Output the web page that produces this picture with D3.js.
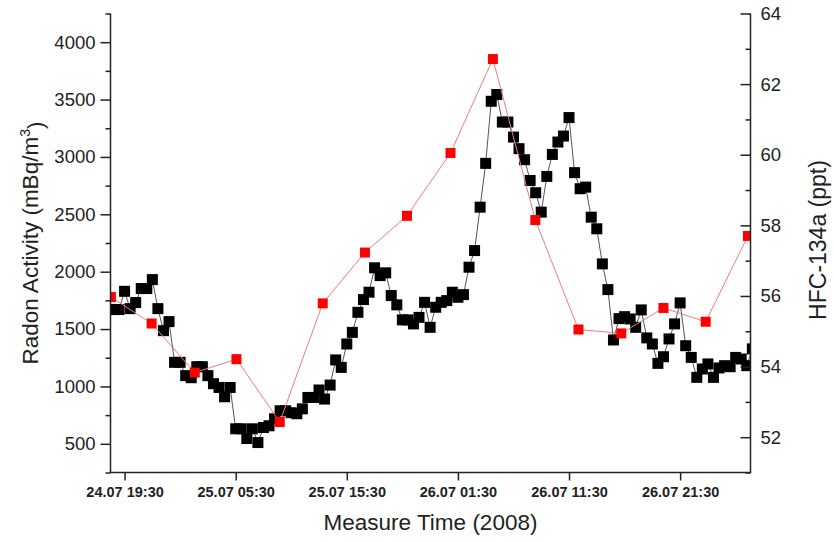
<!DOCTYPE html>
<html>
<head>
<meta charset="utf-8">
<script src="https://cdn.jsdelivr.net/npm/d3@7"></script>
<style>
  body { margin: 0; background: #fff; }
  svg text { font-family: Arial, "Liberation Sans", sans-serif; fill: #222; }
</style>
</head>
<body>
<div id="chart"></div>
<script>
// radon: one reading every 30 minutes from the start time
var radonStart = '2008-07-24 18:30'
var radonStepMinutes = 30
var radonValues = [
  1670, 1670, 1829, 1678, 1731, 1853, 1853, 1931, 1678, 1486,
  1565, 1210, 1210, 1094, 1076, 1172, 1172, 1094, 1024, 991,
  910, 991, 631, 631, 546, 631, 511, 642, 657, 718,
  788, 788, 771, 762, 805, 904, 904, 969, 890, 1012,
  1231, 1166, 1370, 1471, 1646, 1757, 1821, 2034, 1966, 1990,
  1792, 1711, 1580, 1580, 1545, 1602, 1733, 1515, 1690, 1733,
  1748, 1821, 1777, 1800, 2039, 2184, 2562, 2944, 3485, 3544,
  3304, 3304, 3173, 3072, 2976, 2795, 2688, 2519, 2830, 3022,
  3130, 3182, 3343, 2863, 2723, 2737, 2475, 2374, 2068, 1844,
  1405, 1591, 1608, 1588, 1515, 1667, 1423, 1370, 1201, 1259,
  1414, 1545, 1728, 1355, 1253, 1079, 1152, 1196, 1079, 1161,
  1181, 1172, 1253, 1239, 1181, 1327
]

// HFC-134a samples
var hfcTimes = [
  '2008-07-24 18:16', '2008-07-24 21:56', '2008-07-25 01:49', '2008-07-25 05:34',
  '2008-07-25 09:28', '2008-07-25 13:20', '2008-07-25 17:08', '2008-07-25 20:55',
  '2008-07-26 00:50', '2008-07-26 04:39', '2008-07-26 08:28', '2008-07-26 12:21',
  '2008-07-26 16:12', '2008-07-26 20:00', '2008-07-26 23:48', '2008-07-27 03:36'
]
var hfcValues = [
  55.97, 55.22, 53.83, 54.21, 52.43, 55.79, 57.23, 58.27,
  60.05, 62.71, 58.15, 55.05, 54.94, 55.66, 55.27, 57.70
]

var timeDomain = ['2008-07-24 18:14', '2008-07-27 03:50']
var timeTicks = [
  '2008-07-24 19:30', '2008-07-25 05:30', '2008-07-25 15:30',
  '2008-07-26 01:30', '2008-07-26 11:30', '2008-07-26 21:30'
]
var radonDomain = [250, 4250]
var radonTicks = [500, 1000, 1500, 2000, 2500, 3000, 3500, 4000]
var radonMinor = [250, 750, 1250, 1750, 2250, 2750, 3250, 3750, 4250]
var hfcDomain = [51, 64]
var hfcTicks = [52, 54, 56, 58, 60, 62, 64]
var hfcMinor = [51, 53, 55, 57, 59, 61, 63]

var parse = d3.timeParse('%Y-%m-%d %H:%M')
var fmt = d3.timeFormat('%d.%m %H:%M')

var width = 834, height = 542
var pL = 110.5, pR = 750.5, pT = 13.5, pB = 472.5

var svg = d3.select('#chart')
  .append('svg')
  .attr('width', width)
  .attr('height', height)

var x = d3.scaleTime()
  .domain(timeDomain.map(parse))
  .range([pL, pR])
var yL = d3.scaleLinear().domain(radonDomain).range([pB, pT])
var yR = d3.scaleLinear().domain(hfcDomain).range([pB, pT])

var t0 = parse(radonStart)
var radon = radonValues.map((v, i) => ({ t: d3.timeMinute.offset(t0, i * radonStepMinutes), v: v }))
var hfc = hfcValues.map((v, i) => ({ t: parse(hfcTimes[i]), v: v }))

svg.append('clipPath').attr('id', 'plot')
  .append('rect')
  .attr('x', pL).attr('y', 0)
  .attr('width', pR - pL).attr('height', pB)

var plot = svg.append('g').attr('clip-path', 'url(#plot)')

// radon series
plot.append('path')
  .datum(radon)
  .attr('fill', 'none')
  .attr('stroke', '#555')
  .attr('stroke-width', 1)
  .attr('d', d3.line().x(d => x(d.t)).y(d => yL(d.v)))

plot.selectAll('.rn')
  .data(radon)
  .enter()
  .append('rect')
  .attr('class', 'rn')
  .attr('x', d => x(d.t) - 5.5)
  .attr('y', d => yL(d.v) - 5.5)
  .attr('width', 11)
  .attr('height', 11)
  .attr('fill', '#000')

// hfc series
plot.append('path')
  .datum(hfc)
  .attr('fill', 'none')
  .attr('stroke', '#f07a7a')
  .attr('stroke-width', 1)
  .attr('d', d3.line().x(d => x(d.t)).y(d => yR(d.v)))

plot.selectAll('.hf')
  .data(hfc)
  .enter()
  .append('rect')
  .attr('class', 'hf')
  .attr('x', d => x(d.t) - 5)
  .attr('y', d => yR(d.v) - 5)
  .attr('width', 10)
  .attr('height', 10)
  .attr('fill', '#f00')

// axes
function style(g) {
  g.select('.domain').remove()
  g.selectAll('line').attr('stroke', '#222').attr('stroke-width', 1.5)
}

svg.append('g')
  .attr('transform', `translate(${pL},0)`)
  .call(d3.axisLeft(yL).tickValues(radonTicks).tickFormat(d3.format('d')).tickSize(10).tickPadding(5))
  .call(style)
  .selectAll('text').style('font-size', '18.5px')
svg.append('g')
  .attr('transform', `translate(${pL},0)`)
  .call(d3.axisLeft(yL).tickValues(radonMinor).tickSize(5).tickFormat(''))
  .call(style)

svg.append('g')
  .attr('transform', `translate(${pR},0)`)
  .call(d3.axisRight(yR).tickValues(hfcTicks).tickSizeInner(-10).tickSizeOuter(0).tickPadding(10))
  .call(style)
  .selectAll('text').style('font-size', '18.5px')
svg.append('g')
  .attr('transform', `translate(${pR},0)`)
  .call(d3.axisRight(yR).tickValues(hfcMinor).tickSizeInner(-5).tickSizeOuter(0).tickFormat(''))
  .call(style)

svg.append('g')
  .attr('transform', `translate(0,${pB})`)
  .call(d3.axisBottom(x).tickValues(timeTicks.map(parse)).tickFormat(fmt).tickSize(8).tickPadding(6))
  .call(style)
  .selectAll('text')
  .style('font-size', '14.5px')
  .style('font-weight', 'bold')

// axis lines (no top border)
svg.append('path')
  .attr('d', `M${pL},${pT}V${pB}H${pR}V${pT}`)
  .attr('fill', 'none')
  .attr('stroke', '#222')
  .attr('stroke-width', 1.5)

// titles
var ly = svg.append('text')
  .attr('transform', `translate(38,${(pT + pB) / 2}) rotate(-90)`)
  .attr('text-anchor', 'middle')
  .style('font-size', '22.5px')
ly.append('tspan').text('Radon Activity (mBq/m')
ly.append('tspan').attr('dy', '-0.55em').style('font-size', '14px').text('3')
ly.append('tspan').attr('dy', '0.55em').text(')')

svg.append('text')
  .attr('transform', `translate(826,${(pT + pB) / 2 - 3}) rotate(-90)`)
  .attr('text-anchor', 'middle')
  .style('font-size', '23px')
  .text('HFC-134a (ppt)')

svg.append('text')
  .attr('x', (pL + pR) / 2)
  .attr('y', 530)
  .attr('text-anchor', 'middle')
  .style('font-size', '22.5px')
  .text('Measure Time (2008)')
</script>
</body>
</html>
